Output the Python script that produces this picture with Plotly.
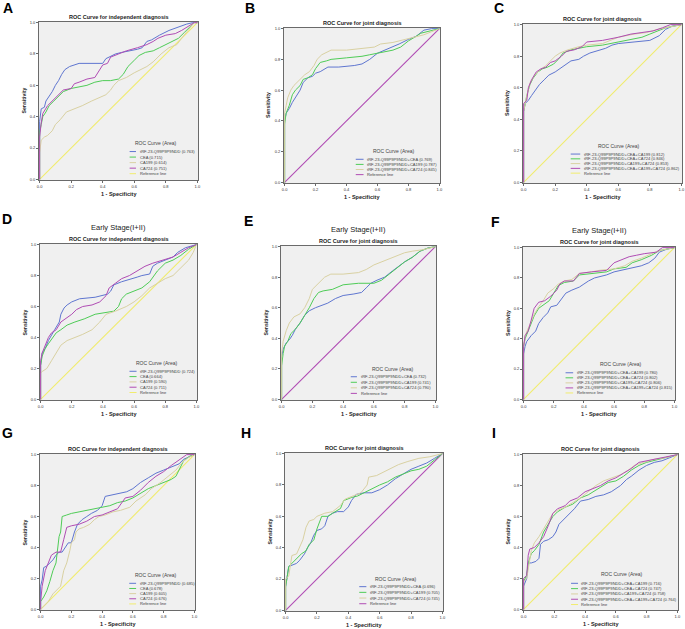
import plotly.graph_objects as go

W, H = 685, 629

# ---- ROC points (1 - specificity, sensitivity) ----
# A: all stages, single markers
A_trf = [(0, 0), (0, 0.37), (0.01, 0.45), (0.03, 0.46), (0.04, 0.50), (0.06, 0.53), (0.08, 0.56), (0.10, 0.60),
         (0.12, 0.63), (0.14, 0.67), (0.16, 0.70), (0.19, 0.72), (0.22, 0.73), (0.25, 0.74), (0.40, 0.74),
         (0.42, 0.77), (0.44, 0.78), (0.48, 0.80), (0.52, 0.81), (0.58, 0.82), (0.62, 0.83), (0.65, 0.84),
         (0.68, 0.88), (0.71, 0.89), (0.76, 0.92), (0.82, 0.95), (0.87, 0.97), (0.93, 0.99), (0.97, 1.0), (1, 1)]
A_cea = [(0, 0), (0, 0.30), (0.01, 0.35), (0.02, 0.40), (0.04, 0.43), (0.06, 0.47), (0.09, 0.50), (0.12, 0.53),
         (0.15, 0.56), (0.20, 0.58), (0.25, 0.59), (0.30, 0.60), (0.35, 0.62), (0.40, 0.63), (0.45, 0.63),
         (0.50, 0.64), (0.53, 0.67), (0.56, 0.72), (0.60, 0.76), (0.63, 0.79), (0.67, 0.81), (0.72, 0.82),
         (0.76, 0.84), (0.80, 0.86), (0.85, 0.88), (0.88, 0.90), (0.92, 0.94), (0.95, 0.97), (0.98, 1.0), (1, 1)]
A_ca199 = [(0, 0), (0, 0.17), (0.01, 0.25), (0.03, 0.27), (0.05, 0.28), (0.08, 0.31), (0.10, 0.35), (0.13, 0.38),
           (0.17, 0.43), (0.22, 0.45), (0.27, 0.47), (0.33, 0.50), (0.38, 0.52), (0.42, 0.54), (0.45, 0.57),
           (0.47, 0.60), (0.50, 0.63), (0.55, 0.65), (0.60, 0.68), (0.64, 0.70), (0.68, 0.72), (0.72, 0.75),
           (0.77, 0.80), (0.82, 0.84), (0.87, 0.86), (0.90, 0.90), (0.94, 0.95), (0.98, 1.0), (1, 1)]
A_ca724 = [(0, 0), (0, 0.27), (0.01, 0.36), (0.02, 0.42), (0.05, 0.47), (0.10, 0.52), (0.15, 0.57), (0.20, 0.58),
           (0.22, 0.61), (0.25, 0.62), (0.30, 0.64), (0.35, 0.65), (0.38, 0.70), (0.40, 0.73), (0.43, 0.74),
           (0.45, 0.78), (0.50, 0.80), (0.55, 0.82), (0.62, 0.84), (0.68, 0.86), (0.72, 0.88), (0.75, 0.90),
           (0.80, 0.92), (0.86, 0.93), (0.90, 0.95), (0.95, 0.98), (0.98, 1.0), (1, 1)]

# B: all stages, tRF + one marker
B_cea = [(0, 0), (0, 0.40), (0.01, 0.45), (0.03, 0.48), (0.05, 0.52), (0.07, 0.55), (0.10, 0.60), (0.12, 0.65),
         (0.15, 0.68), (0.18, 0.69), (0.20, 0.71), (0.23, 0.72), (0.26, 0.74), (0.28, 0.75), (0.35, 0.75),
         (0.45, 0.76), (0.50, 0.77), (0.55, 0.80), (0.60, 0.84), (0.65, 0.86), (0.70, 0.88), (0.74, 0.90),
         (0.80, 0.93), (0.85, 0.95), (0.90, 0.99), (0.95, 1.0), (1, 1)]
B_ca199 = [(0, 0), (0, 0.38), (0.01, 0.45), (0.03, 0.50), (0.05, 0.57), (0.07, 0.60), (0.10, 0.63), (0.12, 0.67),
           (0.15, 0.68), (0.18, 0.70), (0.20, 0.74), (0.23, 0.78), (0.27, 0.79), (0.30, 0.80), (0.40, 0.81),
           (0.50, 0.82), (0.55, 0.83), (0.60, 0.84), (0.65, 0.85), (0.70, 0.86), (0.75, 0.88), (0.80, 0.92),
           (0.85, 0.95), (0.88, 0.97), (0.92, 0.98), (0.97, 0.99), (1, 1)]
B_ca724 = [(0, 0), (0, 0.45), (0.01, 0.50), (0.02, 0.55), (0.04, 0.60), (0.06, 0.63), (0.08, 0.65), (0.10, 0.67),
           (0.13, 0.70), (0.16, 0.72), (0.19, 0.76), (0.21, 0.80), (0.24, 0.83), (0.28, 0.85), (0.30, 0.86),
           (0.40, 0.86), (0.50, 0.87), (0.58, 0.88), (0.62, 0.90), (0.70, 0.91), (0.78, 0.93), (0.85, 0.95),
           (0.90, 0.96), (0.95, 0.98), (1, 1)]

# C: all stages, tRF + two / three markers
C_cea_ca199 = [(0, 0), (0, 0.45), (0.01, 0.50), (0.03, 0.52), (0.05, 0.55), (0.07, 0.58), (0.10, 0.62), (0.13, 0.65),
               (0.16, 0.68), (0.20, 0.70), (0.23, 0.72), (0.26, 0.74), (0.30, 0.77), (0.35, 0.78), (0.38, 0.80),
               (0.42, 0.82), (0.48, 0.84), (0.52, 0.85), (0.56, 0.87), (0.60, 0.88), (0.70, 0.89), (0.80, 0.90),
               (0.86, 0.93), (0.90, 0.97), (0.94, 0.99), (1, 1)]
C_cea_ca724 = [(0, 0), (0, 0.45), (0.01, 0.50), (0.02, 0.55), (0.04, 0.62), (0.06, 0.66), (0.09, 0.70), (0.12, 0.72),
               (0.15, 0.73), (0.19, 0.75), (0.22, 0.78), (0.25, 0.82), (0.30, 0.84), (0.35, 0.85), (0.40, 0.86),
               (0.50, 0.87), (0.60, 0.89), (0.65, 0.90), (0.70, 0.91), (0.75, 0.92), (0.80, 0.94), (0.85, 0.96),
               (0.90, 0.98), (0.95, 0.99), (1, 1)]
C_ca199_ca724 = [(0, 0), (0, 0.45), (0.02, 0.55), (0.04, 0.63), (0.07, 0.68), (0.10, 0.71), (0.14, 0.74), (0.17, 0.77),
                 (0.20, 0.80), (0.23, 0.82), (0.28, 0.84), (0.35, 0.86), (0.40, 0.87), (0.50, 0.88), (0.55, 0.90),
                 (0.60, 0.92), (0.70, 0.94), (0.78, 0.95), (0.85, 0.97), (0.90, 0.98), (0.95, 0.99), (1, 1)]
C_all = [(0, 0), (0, 0.50), (0.02, 0.52), (0.03, 0.60), (0.05, 0.65), (0.08, 0.70), (0.11, 0.72), (0.14, 0.73),
         (0.17, 0.76), (0.20, 0.77), (0.24, 0.80), (0.27, 0.83), (0.32, 0.84), (0.37, 0.86), (0.40, 0.89),
         (0.50, 0.90), (0.60, 0.92), (0.68, 0.94), (0.75, 0.95), (0.82, 0.96), (0.88, 0.98), (0.93, 1.0), (1, 1)]

# D: early stage, single markers
D_trf = [(0, 0), (0, 0.22), (0.01, 0.30), (0.03, 0.33), (0.05, 0.38), (0.07, 0.42), (0.09, 0.45), (0.12, 0.50),
         (0.13, 0.55), (0.15, 0.59), (0.17, 0.61), (0.20, 0.63), (0.25, 0.65), (0.35, 0.66), (0.40, 0.67),
         (0.43, 0.68), (0.45, 0.70), (0.47, 0.74), (0.52, 0.76), (0.56, 0.77), (0.62, 0.79), (0.65, 0.80),
         (0.70, 0.81), (0.72, 0.86), (0.75, 0.88), (0.80, 0.90), (0.85, 0.92), (0.88, 0.95), (0.93, 0.98), (1, 1)]
D_cea = [(0, 0), (0, 0.22), (0.01, 0.28), (0.03, 0.33), (0.05, 0.36), (0.07, 0.39), (0.10, 0.43), (0.13, 0.45),
         (0.17, 0.48), (0.22, 0.50), (0.28, 0.52), (0.35, 0.55), (0.40, 0.56), (0.47, 0.57), (0.50, 0.60),
         (0.52, 0.65), (0.55, 0.68), (0.60, 0.70), (0.65, 0.72), (0.70, 0.76), (0.75, 0.83), (0.80, 0.88),
         (0.85, 0.90), (0.90, 0.93), (0.95, 0.97), (1, 1)]
D_ca199 = [(0, 0), (0, 0.17), (0.01, 0.18), (0.04, 0.20), (0.07, 0.25), (0.10, 0.30), (0.13, 0.35), (0.17, 0.38),
           (0.22, 0.40), (0.27, 0.42), (0.33, 0.45), (0.38, 0.50), (0.42, 0.55), (0.48, 0.57), (0.55, 0.60),
           (0.60, 0.63), (0.65, 0.67), (0.70, 0.72), (0.75, 0.75), (0.80, 0.78), (0.85, 0.80), (0.90, 0.85),
           (0.95, 0.90), (0.98, 0.95), (1, 1)]
D_ca724 = [(0, 0), (0, 0.25), (0.01, 0.30), (0.03, 0.35), (0.05, 0.40), (0.07, 0.43), (0.10, 0.45), (0.13, 0.50),
           (0.16, 0.52), (0.20, 0.55), (0.23, 0.58), (0.27, 0.60), (0.33, 0.61), (0.38, 0.63), (0.42, 0.67),
           (0.44, 0.72), (0.48, 0.75), (0.52, 0.78), (0.57, 0.80), (0.62, 0.83), (0.67, 0.86), (0.72, 0.88),
           (0.78, 0.90), (0.85, 0.92), (0.90, 0.95), (0.95, 0.98), (1, 1)]

# E: early stage, tRF + one marker
E_cea = [(0, 0), (0, 0.28), (0.01, 0.33), (0.03, 0.37), (0.05, 0.39), (0.07, 0.42), (0.09, 0.46), (0.12, 0.50),
         (0.15, 0.55), (0.18, 0.58), (0.22, 0.60), (0.27, 0.62), (0.30, 0.63), (0.35, 0.66), (0.40, 0.68),
         (0.47, 0.69), (0.52, 0.70), (0.55, 0.73), (0.58, 0.76), (0.62, 0.78), (0.67, 0.80), (0.72, 0.84),
         (0.76, 0.87), (0.80, 0.90), (0.85, 0.93), (0.90, 0.97), (0.95, 0.99), (1, 1)]
E_ca199 = [(0, 0), (0, 0.22), (0.01, 0.30), (0.02, 0.35), (0.04, 0.38), (0.06, 0.43), (0.09, 0.46), (0.12, 0.50),
           (0.15, 0.55), (0.18, 0.60), (0.21, 0.66), (0.24, 0.70), (0.27, 0.71), (0.33, 0.72), (0.40, 0.75),
           (0.50, 0.76), (0.60, 0.76), (0.65, 0.78), (0.70, 0.82), (0.75, 0.86), (0.80, 0.90), (0.85, 0.93),
           (0.90, 0.97), (0.95, 0.99), (1, 1)]
E_ca724 = [(0, 0), (0, 0.30), (0.01, 0.38), (0.03, 0.45), (0.05, 0.50), (0.08, 0.54), (0.12, 0.56), (0.15, 0.60),
           (0.18, 0.66), (0.20, 0.72), (0.23, 0.75), (0.25, 0.77), (0.28, 0.80), (0.32, 0.82), (0.40, 0.82),
           (0.50, 0.83), (0.55, 0.85), (0.60, 0.88), (0.65, 0.90), (0.70, 0.92), (0.75, 0.94), (0.80, 0.96),
           (0.85, 0.97), (0.92, 0.98), (1, 1)]

# F: early stage, tRF + two / three markers
F_cea_ca199 = [(0, 0), (0, 0.30), (0.01, 0.35), (0.02, 0.38), (0.05, 0.42), (0.08, 0.45), (0.10, 0.50), (0.13, 0.54),
               (0.16, 0.57), (0.18, 0.61), (0.22, 0.62), (0.25, 0.66), (0.28, 0.70), (0.32, 0.72), (0.37, 0.74),
               (0.40, 0.76), (0.43, 0.78), (0.47, 0.80), (0.55, 0.82), (0.60, 0.84), (0.70, 0.86), (0.78, 0.88),
               (0.83, 0.90), (0.87, 0.93), (0.90, 0.97), (0.95, 0.99), (1, 1)]
F_cea_ca724 = [(0, 0), (0, 0.35), (0.01, 0.40), (0.03, 0.45), (0.05, 0.50), (0.07, 0.55), (0.10, 0.60), (0.13, 0.62),
               (0.17, 0.65), (0.20, 0.70), (0.23, 0.75), (0.27, 0.77), (0.33, 0.78), (0.37, 0.82), (0.45, 0.83),
               (0.55, 0.84), (0.60, 0.86), (0.68, 0.87), (0.72, 0.90), (0.78, 0.92), (0.85, 0.95), (0.90, 0.98),
               (0.95, 0.99), (1, 1)]
F_ca199_ca724 = [(0, 0), (0, 0.35), (0.01, 0.42), (0.03, 0.47), (0.05, 0.52), (0.07, 0.56), (0.10, 0.61), (0.13, 0.65),
                 (0.16, 0.70), (0.20, 0.73), (0.23, 0.76), (0.27, 0.78), (0.32, 0.79), (0.37, 0.83), (0.45, 0.84),
                 (0.50, 0.85), (0.60, 0.86), (0.67, 0.88), (0.72, 0.91), (0.78, 0.93), (0.85, 0.96), (0.90, 0.98),
                 (0.95, 0.99), (1, 1)]
F_all = [(0, 0), (0, 0.35), (0.01, 0.42), (0.03, 0.45), (0.05, 0.52), (0.07, 0.60), (0.10, 0.64), (0.14, 0.65),
         (0.18, 0.68), (0.22, 0.72), (0.24, 0.76), (0.27, 0.78), (0.33, 0.78), (0.37, 0.83), (0.45, 0.84),
         (0.55, 0.85), (0.60, 0.90), (0.65, 0.92), (0.70, 0.94), (0.75, 0.95), (0.80, 0.96), (0.88, 0.97),
         (0.92, 1.0), (1, 1)]

# G: late stage, single markers
G_trf = [(0, 0), (0, 0.15), (0.01, 0.19), (0.02, 0.27), (0.04, 0.28), (0.06, 0.30), (0.08, 0.32), (0.10, 0.35),
         (0.12, 0.37), (0.14, 0.37), (0.16, 0.40), (0.18, 0.43), (0.20, 0.43), (0.22, 0.50), (0.24, 0.55),
         (0.27, 0.58), (0.30, 0.60), (0.33, 0.62), (0.37, 0.64), (0.40, 0.67), (0.42, 0.73), (0.47, 0.74),
         (0.52, 0.75), (0.56, 0.76), (0.60, 0.78), (0.65, 0.82), (0.70, 0.85), (0.75, 0.88), (0.80, 0.90),
         (0.85, 0.92), (0.90, 0.94), (0.93, 0.97), (0.97, 0.99), (1, 1)]
G_cea = [(0, 0), (0, 0.05), (0.02, 0.08), (0.04, 0.12), (0.06, 0.18), (0.08, 0.25), (0.10, 0.30), (0.11, 0.38),
         (0.12, 0.47), (0.13, 0.50), (0.14, 0.60), (0.17, 0.61), (0.20, 0.62), (0.25, 0.63), (0.30, 0.64),
         (0.35, 0.65), (0.40, 0.66), (0.45, 0.67), (0.50, 0.69), (0.55, 0.70), (0.60, 0.72), (0.65, 0.75),
         (0.70, 0.78), (0.75, 0.80), (0.80, 0.82), (0.85, 0.84), (0.88, 0.86), (0.90, 0.90), (0.93, 0.96),
         (0.97, 0.99), (1, 1)]
G_ca199 = [(0, 0), (0.02, 0.02), (0.05, 0.05), (0.08, 0.10), (0.10, 0.12), (0.13, 0.15), (0.15, 0.25), (0.17, 0.30),
           (0.19, 0.38), (0.20, 0.43), (0.22, 0.45), (0.23, 0.50), (0.25, 0.52), (0.28, 0.53), (0.32, 0.55),
           (0.35, 0.58), (0.38, 0.60), (0.42, 0.61), (0.47, 0.63), (0.52, 0.64), (0.58, 0.66), (0.62, 0.70),
           (0.68, 0.74), (0.72, 0.78), (0.78, 0.82), (0.82, 0.85), (0.88, 0.90), (0.92, 0.95), (0.96, 0.98), (1, 1)]
G_ca724 = [(0, 0), (0, 0.05), (0.01, 0.15), (0.03, 0.25), (0.05, 0.30), (0.07, 0.35), (0.10, 0.37), (0.13, 0.37),
           (0.15, 0.45), (0.17, 0.53), (0.20, 0.54), (0.25, 0.55), (0.30, 0.57), (0.35, 0.60), (0.40, 0.61),
           (0.45, 0.63), (0.50, 0.65), (0.55, 0.72), (0.60, 0.73), (0.65, 0.77), (0.70, 0.82), (0.75, 0.86),
           (0.80, 0.89), (0.85, 0.93), (0.88, 0.95), (0.92, 0.98), (0.95, 1.0), (1, 1)]

# H: late stage, tRF + one marker
H_cea = [(0, 0), (0, 0.15), (0.02, 0.28), (0.04, 0.29), (0.07, 0.30), (0.09, 0.32), (0.12, 0.36), (0.14, 0.40),
         (0.16, 0.43), (0.18, 0.48), (0.20, 0.51), (0.23, 0.52), (0.25, 0.54), (0.27, 0.60), (0.30, 0.62),
         (0.33, 0.63), (0.37, 0.63), (0.40, 0.66), (0.42, 0.70), (0.45, 0.74), (0.50, 0.75), (0.55, 0.75),
         (0.60, 0.77), (0.65, 0.80), (0.70, 0.84), (0.75, 0.87), (0.80, 0.90), (0.85, 0.92), (0.90, 0.94),
         (0.95, 0.97), (1, 1)]
H_ca199 = [(0, 0), (0, 0.15), (0.02, 0.28), (0.04, 0.30), (0.07, 0.33), (0.10, 0.36), (0.13, 0.38), (0.15, 0.42),
           (0.18, 0.45), (0.20, 0.52), (0.23, 0.60), (0.27, 0.60), (0.30, 0.62), (0.35, 0.65), (0.37, 0.70),
           (0.42, 0.72), (0.46, 0.73), (0.50, 0.75), (0.55, 0.78), (0.60, 0.80), (0.65, 0.82), (0.70, 0.85),
           (0.75, 0.87), (0.80, 0.89), (0.85, 0.90), (0.90, 0.92), (0.95, 0.96), (1, 1)]
H_ca724 = [(0, 0), (0, 0.20), (0.02, 0.22), (0.03, 0.30), (0.04, 0.35), (0.07, 0.36), (0.09, 0.40), (0.11, 0.45),
           (0.13, 0.53), (0.15, 0.57), (0.18, 0.58), (0.20, 0.60), (0.25, 0.62), (0.30, 0.63), (0.35, 0.67),
           (0.38, 0.71), (0.43, 0.73), (0.48, 0.75), (0.52, 0.80), (0.53, 0.85), (0.58, 0.86), (0.62, 0.88),
           (0.67, 0.90), (0.72, 0.93), (0.78, 0.95), (0.85, 0.97), (0.92, 0.98), (1, 1)]

# I: late stage, tRF + two / three markers
I_cea_ca199 = [(0, 0), (0, 0.15), (0.02, 0.20), (0.03, 0.30), (0.05, 0.30), (0.08, 0.31), (0.10, 0.33), (0.11, 0.42),
               (0.13, 0.44), (0.16, 0.45), (0.19, 0.47), (0.21, 0.50), (0.23, 0.55), (0.26, 0.58), (0.30, 0.62),
               (0.33, 0.65), (0.37, 0.70), (0.42, 0.71), (0.47, 0.73), (0.52, 0.74), (0.57, 0.76), (0.60, 0.78),
               (0.63, 0.80), (0.67, 0.84), (0.70, 0.86), (0.75, 0.90), (0.80, 0.93), (0.85, 0.95), (0.90, 0.96),
               (0.95, 0.98), (1, 1)]
I_cea_ca724 = [(0, 0), (0, 0.18), (0.02, 0.22), (0.03, 0.30), (0.05, 0.36), (0.07, 0.38), (0.10, 0.42), (0.13, 0.50),
               (0.16, 0.55), (0.19, 0.60), (0.22, 0.63), (0.27, 0.66), (0.32, 0.68), (0.37, 0.72), (0.42, 0.74),
               (0.47, 0.77), (0.52, 0.80), (0.55, 0.82), (0.60, 0.83), (0.65, 0.86), (0.70, 0.90), (0.75, 0.93),
               (0.80, 0.95), (0.88, 0.97), (0.95, 0.99), (1, 1)]
I_ca199_ca724 = [(0, 0), (0, 0.18), (0.02, 0.20), (0.03, 0.27), (0.05, 0.38), (0.07, 0.43), (0.10, 0.47), (0.13, 0.52),
                 (0.16, 0.57), (0.19, 0.62), (0.22, 0.64), (0.27, 0.66), (0.32, 0.69), (0.37, 0.72), (0.42, 0.76),
                 (0.47, 0.80), (0.52, 0.83), (0.58, 0.85), (0.63, 0.87), (0.68, 0.90), (0.72, 0.93), (0.78, 0.95),
                 (0.85, 0.97), (0.92, 0.98), (1, 1)]
I_all = [(0, 0), (0, 0.20), (0.02, 0.22), (0.03, 0.35), (0.04, 0.39), (0.07, 0.40), (0.10, 0.43), (0.13, 0.47),
         (0.16, 0.54), (0.19, 0.62), (0.22, 0.65), (0.27, 0.67), (0.30, 0.70), (0.35, 0.72), (0.40, 0.76),
         (0.45, 0.78), (0.50, 0.80), (0.55, 0.83), (0.60, 0.85), (0.65, 0.88), (0.70, 0.91), (0.75, 0.95),
         (0.80, 0.96), (0.88, 0.98), (0.95, 0.99), (1, 1)]

# chance diagonal, drawn in every panel
REF_FPR = [0, 0.25, 0.5, 0.75, 1]
REF_TPR = [0, 0.25, 0.5, 0.75, 1]

# ---- legend names and AUC values ----
TRF = "tRF-23-Q99P9P9NDD"
single_names = [TRF, "CEA", "CA199", "CA724"]
pair_names = [TRF + "+CEA", TRF + "+CA199", TRF + "+CA724"]
combo_names = [TRF + "+CEA+CA199", TRF + "+CEA+CA724", TRF + "+CA199+CA724", TRF + "+CEA+CA199+CA724"]

A_auc = [0.763, 0.715, 0.614, 0.751]
B_auc = [0.769, 0.787, 0.845]
C_auc = [0.812, 0.846, 0.853, 0.862]
D_auc = [0.724, 0.664, 0.590, 0.711]
E_auc = [0.732, 0.741, 0.790]
F_auc = [0.780, 0.802, 0.806, 0.815]
G_auc = [0.685, 0.678, 0.605, 0.676]
H_auc = [0.696, 0.705, 0.745]
I_auc = [0.716, 0.747, 0.758, 0.764]

T_IND = "ROC Curve for independent diagnosis"
T_JOINT = "ROC Curve for joint diagnosis"

# ---- styling ----
BLUE, GREEN, TAN, PURPLE, YELLOW = "#5f76d0", "#4fcc57", "#d9d1a2", "#b04cb4", "#f1ec6e"
CURVE_COLORS = [BLUE, GREEN, TAN, PURPLE]
FONT = "Liberation Sans, Arial, sans-serif"

# box = plot area in pixels (left, top, right, bottom); leg = legend layout in axis-domain fractions
# (line start, line end, text x, title x, title y, first row y, row step)
panels = [
    dict(letter="A", lpos=(7.5, 8.5), box=(39, 22, 198, 180), title=T_IND, early=False,
         curves=[A_trf, A_cea, A_ca199, A_ca724], names=single_names, auc=A_auc, ref=YELLOW,
         leg=(0.57, 0.61, 0.62, 0.73, 0.234, 0.18, 0.035)),
    dict(letter="B", lpos=(250, 8), box=(284, 28, 440, 183), title=T_JOINT, early=False,
         curves=[B_cea, B_ca199, B_ca724], names=pair_names, auc=B_auc, ref=PURPLE,
         leg=(0.46, 0.51, 0.52, 0.70, 0.208, 0.153, 0.033)),
    dict(letter="C", lpos=(499, 8), box=(523, 24, 682, 183), title=T_JOINT, early=False,
         curves=[C_cea_ca199, C_cea_ca724, C_ca199_ca724, C_all], names=combo_names, auc=C_auc, ref=YELLOW,
         leg=(0.30, 0.36, 0.37, 0.60, 0.233, 0.182, 0.03)),
    dict(letter="D", lpos=(7, 219), box=(40, 244, 197, 400), title=T_IND, early=True,
         curves=[D_trf, D_cea, D_ca199, D_ca724], names=single_names, auc=D_auc, ref=YELLOW,
         leg=(0.57, 0.615, 0.625, 0.745, 0.235, 0.184, 0.034)),
    dict(letter="E", lpos=(248.5, 221), box=(281, 246, 436, 400), title=T_JOINT, early=True,
         curves=[E_cea, E_ca199, E_ca724], names=pair_names, auc=E_auc, ref=PURPLE,
         leg=(0.45, 0.49, 0.50, 0.72, 0.20, 0.151, 0.036)),
    dict(letter="F", lpos=(495.5, 222), box=(523, 247, 675, 400), title=T_JOINT, early=True,
         curves=[F_cea_ca199, F_cea_ca724, F_ca199_ca724, F_all], names=combo_names, auc=F_auc, ref=YELLOW,
         leg=(0.28, 0.33, 0.34, 0.64, 0.233, 0.178, 0.033)),
    dict(letter="G", lpos=(7.5, 433), box=(40, 454, 195, 610), title=T_IND, early=False,
         curves=[G_trf, G_cea, G_ca199, G_ca724], names=single_names, auc=G_auc, ref=YELLOW,
         leg=(0.576, 0.62, 0.63, 0.746, 0.226, 0.171, 0.033)),
    dict(letter="H", lpos=(246, 433), box=(285, 453, 443, 611), title=T_JOINT, early=False,
         curves=[H_cea, H_ca199, H_ca724], names=pair_names, auc=H_auc, ref=PURPLE,
         leg=(0.47, 0.515, 0.525, 0.70, 0.20, 0.154, 0.036)),
    dict(letter="I", lpos=(493.5, 433), box=(523, 454, 678, 610), title=T_JOINT, early=False,
         curves=[I_cea_ca199, I_cea_ca724, I_ca199_ca724, I_all], names=combo_names, auc=I_auc, ref=YELLOW,
         leg=(0.31, 0.355, 0.36, 0.637, 0.229, 0.171, 0.034)),
]

fig = go.Figure()
annotations = []
shapes = []
ticks = [0, 0.2, 0.4, 0.6, 0.8, 1.0]


def note(text, x, y, xref="paper", yref="paper", xanchor="center", **font):
    font.setdefault("family", FONT)
    return dict(text=text, x=x, y=y, xref=xref, yref=yref, xanchor=xanchor, yanchor="middle",
                showarrow=False, font=font)


for i, p in enumerate(panels, 1):
    sfx = "" if i == 1 else str(i)
    xa, ya = "x" + sfx, "y" + sfx
    l, t, r, b = p["box"]

    # reference diagonal underneath
    fig.add_trace(go.Scatter(x=REF_FPR, y=REF_TPR, mode="lines", line=dict(color=p["ref"], width=1.1),
                             xaxis=xa, yaxis=ya, showlegend=False, hoverinfo="skip"))
    for pts, col in zip(p["curves"], CURVE_COLORS):
        fx, ty = zip(*pts)
        fig.add_trace(go.Scatter(x=fx, y=ty, mode="lines", line=dict(color=col, width=1),
                                 xaxis=xa, yaxis=ya, showlegend=False, hoverinfo="skip"))

    ax = dict(range=[-0.004, 1.004], tickvals=ticks, tickformat=".1f", showgrid=False, zeroline=False,
              showline=True, linecolor="#6a6a6a", linewidth=1, mirror=True, ticks="outside",
              ticklen=2, tickwidth=1, tickcolor="#6a6a6a", automargin=False, showspikes=False,
              tickfont=dict(size=4, color="#333", family=FONT))
    fig.layout["xaxis" + sfx] = dict(ax, domain=[l / W, r / W], anchor=ya)
    fig.layout["yaxis" + sfx] = dict(ax, domain=[1 - b / H, 1 - t / H], anchor=xa)

    cx = (l + r) / 2 / W
    annotations.append(note(p["letter"], p["lpos"][0] / W, 1 - p["lpos"][1] / H, size=14, color="#000", weight="bold"))
    if p["early"]:
        annotations.append(note("Early Stage(I+II)", cx, 1 - (t - 17) / H, size=7.5, color="#222"))
    annotations.append(note(p["title"], cx, 1 - (t - 5) / H, size=5.5, color="#222", weight="bold"))
    annotations.append(note("1 - Specificity", cx, 1 - (b + 14) / H, size=5.5, color="#222", weight="bold"))
    sens = note("Sensitivity", (l - 15.5) / W, 1 - (t + b) / 2 / H, size=5.2, color="#222", weight="bold")
    sens["textangle"] = -90
    annotations.append(sens)

    # legend drawn inside the plot area
    lx0, lx1, tx, titx, tity, ry0, rdy = p["leg"]
    dx, dy = xa + " domain", ya + " domain"
    annotations.append(note("ROC Curve (Area)", titx, tity, dx, dy, size=5, color="#444"))
    labels = [f"{n} ({a:.3f})" for n, a in zip(p["names"], p["auc"])] + ["Reference line"]
    colors = CURVE_COLORS[:len(p["names"])] + [p["ref"]]
    for k, (lab, col) in enumerate(zip(labels, colors)):
        yy = ry0 - k * rdy
        shapes.append(dict(type="line", xref=dx, yref=dy, x0=lx0, x1=lx1, y0=yy, y1=yy,
                           line=dict(color=col, width=1), layer="above"))
        annotations.append(note(lab, tx, yy, dx, dy, xanchor="left", size=4.1, color="#444"))

fig.update_layout(width=W, height=H, margin=dict(l=0, r=0, t=0, b=0, autoexpand=False), plot_bgcolor="#f0f0f0",
                  paper_bgcolor="white", showlegend=False, annotations=annotations, shapes=shapes,
                  font=dict(family=FONT), hovermode=False)

# page default body margin would push the figure 8px down/right
fig.write_html("out.html", config={"displayModeBar": False, "staticPlot": True},
               post_script="document.body.style.margin='0px';")
